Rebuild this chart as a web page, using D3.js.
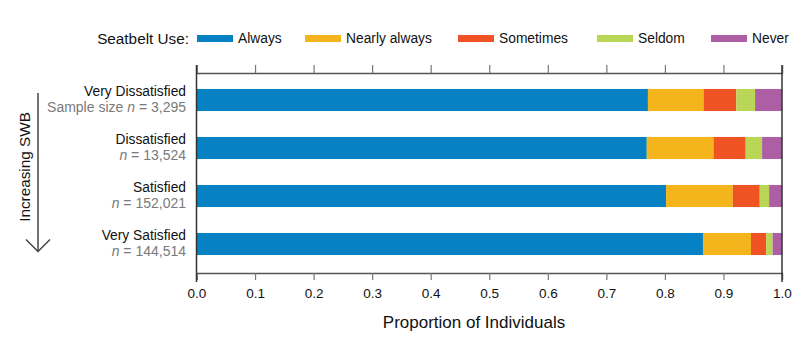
<!DOCTYPE html>
<html>
<head>
<meta charset="utf-8">
<script src="https://cdn.jsdelivr.net/npm/d3@7"></script>
<style>
  body { margin: 0; background: #fff; }
  svg { font-family: Arial, "Liberation Sans", Helvetica, sans-serif; }
</style>
</head>
<body>
<script>
// datos
const categories = ["Very Dissatisfied", "Dissatisfied", "Satisfied", "Very Satisfied"];
const sampleLabels = ["Sample size ", "", "", ""];
const sampleSizes = ["3,295", "13,524", "152,021", "144,514"];
const seriesNames = ["Always", "Nearly always", "Sometimes", "Seldom", "Never"];
const always = [0.771, 0.769, 0.802, 0.865];
const nearlyAlways = [0.095, 0.114, 0.114, 0.082];
const sometimes = [0.056, 0.055, 0.046, 0.026];
const seldom = [0.032, 0.028, 0.016, 0.011];
const never = [0.046, 0.034, 0.022, 0.016];
const xTicks = [0, 0.1, 0.2, 0.3, 0.4, 0.5, 0.6, 0.7, 0.8, 0.9, 1.0];
const colors = ["#0681c4", "#f4b41b", "#ef5323", "#b9d656", "#ae5ea5"];

const W = 811, H = 342;
const svg = d3.select("body").append("svg")
    .attr("width", W)
    .attr("height", H);

const x = d3.scaleLinear().domain([0, 1]).range([196.5, 782]);
const y = d3.scaleBand().domain(categories).range([76, 268])
    .paddingInner(0.54).paddingOuter(0.27);

// tabla para el stack
const rows = categories.map((c, i) => ({
    cat: c,
    "Always": always[i],
    "Nearly always": nearlyAlways[i],
    "Sometimes": sometimes[i],
    "Seldom": seldom[i],
    "Never": never[i]
}));
const stacked = d3.stack().keys(seriesNames)(rows);
const color = d3.scaleOrdinal().domain(seriesNames).range(colors);

// barras
svg.append("g").selectAll("g")
    .data(stacked)
    .enter().append("g")
    .attr("fill", d => color(d.key))
    .selectAll("rect")
    .data(d => d)
    .enter().append("rect")
    .attr("x", d => x(d[0]))
    .attr("y", d => y(d.data.cat))
    .attr("width", d => x(d[1]) - x(d[0]))
    .attr("height", y.bandwidth());

// ejes arriba y abajo
const yTop = 73, yBot = 273;
const topAxis = svg.append("g")
    .attr("transform", `translate(0,${yTop})`)
    .call(d3.axisTop(x).tickValues(xTicks).tickSize(8).tickFormat(""));
const botAxis = svg.append("g")
    .attr("transform", `translate(0,${yBot})`)
    .call(d3.axisBottom(x).tickValues(xTicks).tickSize(7).tickPadding(8)
        .tickFormat(d3.format(".1f")));
[topAxis, botAxis].forEach(a => {
    a.select(".domain").attr("stroke", "#555").attr("stroke-width", 1.3);
    a.selectAll(".tick line").attr("stroke", "#777").attr("stroke-width", 1.2);
});
botAxis.selectAll(".tick text")
    .attr("font-family", null)
    .attr("font-size", "13.5px")
    .attr("fill", "#111");

// marco lateral
svg.append("line")
    .attr("x1", x(0)).attr("x2", x(0))
    .attr("y1", 65).attr("y2", 282)
    .attr("stroke", "#333").attr("stroke-width", 1.5);
svg.append("line")
    .attr("x1", x(1)).attr("x2", x(1))
    .attr("y1", 65).attr("y2", 282)
    .attr("stroke", "#333").attr("stroke-width", 1.5);

// etiquetas de categorias
const lab = svg.append("g").selectAll("g")
    .data(categories)
    .enter().append("g");
lab.append("text")
    .attr("x", 186)
    .attr("y", d => y(d) + 2)
    .attr("dy", "0.35em")
    .attr("text-anchor", "end")
    .attr("font-size", "13.8px")
    .attr("fill", "#111")
    .text(d => d);
const nt = lab.append("text")
    .attr("x", 186)
    .attr("y", d => y(d) + 18.5)
    .attr("dy", "0.35em")
    .attr("text-anchor", "end")
    .attr("font-size", "14px")
    .attr("fill", "#7a7a7a");
nt.append("tspan").text((d, i) => sampleLabels[i]);
nt.append("tspan").attr("font-style", "italic").text("n");
nt.append("tspan").text((d, i) => " = " + sampleSizes[i]);

// titulo eje x
svg.append("text")
    .attr("x", 474)
    .attr("y", 322)
    .attr("dy", "0.35em")
    .attr("text-anchor", "middle")
    .attr("font-size", "17px")
    .attr("fill", "#111")
    .text("Proportion of Individuals");

// flecha SWB
svg.append("text")
    .attr("transform", "translate(25,167) rotate(-90)")
    .attr("dy", "0.35em")
    .attr("text-anchor", "middle")
    .attr("font-size", "15.3px")
    .attr("fill", "#111")
    .text("Increasing SWB");
svg.append("line")
    .attr("x1", 38).attr("x2", 38)
    .attr("y1", 93).attr("y2", 251)
    .attr("stroke", "#444").attr("stroke-width", 1.5);
svg.append("path")
    .attr("d", "M26,239.5L38,251.5L50,239.5")
    .attr("fill", "none")
    .attr("stroke", "#444").attr("stroke-width", 1.5);

// leyenda
const legendX = [197, 305, 458, 597, 711];
svg.append("text")
    .attr("x", 189)
    .attr("y", 38.5)
    .attr("dy", "0.35em")
    .attr("text-anchor", "end")
    .attr("font-size", "15.3px")
    .attr("fill", "#111")
    .text("Seatbelt Use:");
const leg = svg.append("g").selectAll("g")
    .data(seriesNames)
    .enter().append("g")
    .attr("transform", (d, i) => `translate(${legendX[i]},0)`);
leg.append("rect")
    .attr("x", 0).attr("y", 35)
    .attr("width", 36).attr("height", 7)
    .attr("fill", d => color(d));
leg.append("text")
    .attr("x", 41)
    .attr("y", 38.5)
    .attr("dy", "0.35em")
    .attr("font-size", "13.8px")
    .attr("fill", "#111")
    .text(d => d);
</script>
</body>
</html>
